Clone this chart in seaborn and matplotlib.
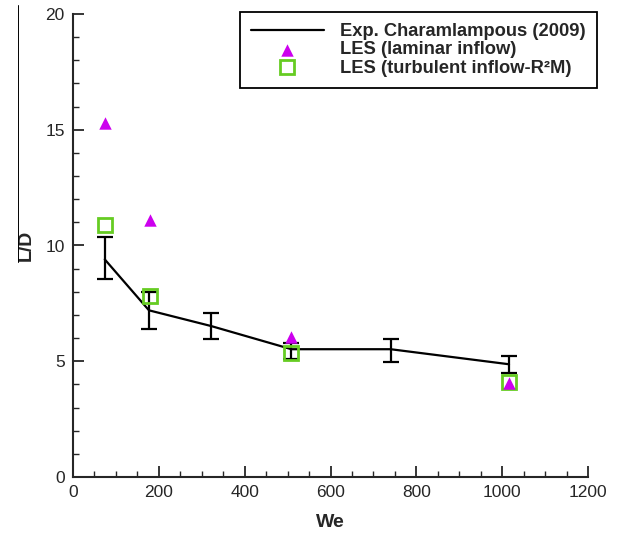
import numpy as np
import pandas as pd
import matplotlib
matplotlib.use('Agg')
import matplotlib.pyplot as plt
from matplotlib.lines import Line2D
from matplotlib.ticker import MultipleLocator
import seaborn as sns

# experimental data (Charalampous 2009) with error bars
exp_we = [74, 177, 322, 509, 740, 1016]
exp_ld = [9.4, 7.2, 6.52, 5.52, 5.52, 4.87]
exp_lo = [8.54, 6.38, 5.95, 5.09, 4.98, 4.48]
exp_hi = [10.38, 8.0, 7.1, 5.8, 5.97, 5.24]

# LES laminar inflow
lam_we = [74, 179, 509, 1016]
lam_ld = [15.3, 11.1, 6.06, 4.07]

# LES turbulent inflow
turb_we = [74, 179, 509, 1016]
turb_ld = [10.89, 7.83, 5.36, 4.1]

sns.set_style('ticks')
plt.rcParams['font.family'] = ['Liberation Sans', 'DejaVu Sans']

fig = plt.figure(figsize=(6.24, 5.34), dpi=100)
ax = fig.add_axes([73 / 624, 57 / 534, 515 / 624, 463 / 534])

exp_df = pd.DataFrame({'We': exp_we, 'LD': exp_ld})
sns.lineplot(data=exp_df, x='We', y='LD', ax=ax, color='black', lw=1.6,
             label='Exp. Charamlampous (2009)')
yerr = [np.array(exp_ld) - np.array(exp_lo), np.array(exp_hi) - np.array(exp_ld)]
ax.errorbar(exp_we, exp_ld, yerr=yerr, fmt='none', ecolor='black',
            elinewidth=1.6, capsize=6, capthick=1.6)

lam_df = pd.DataFrame({'We': lam_we, 'LD': lam_ld})
sns.scatterplot(data=lam_df, x='We', y='LD', ax=ax, marker='^', s=80,
                color='#cc00ee', edgecolor='#cc00ee', linewidth=0,
                label='LES (laminar inflow)', zorder=4)

turb_df = pd.DataFrame({'We': turb_we, 'LD': turb_ld})
ax.plot(turb_df['We'], turb_df['LD'], ls='none', marker='s', ms=10,
        mfc='none', mec='#66cc22', mew=2, label='LES (turbulent inflow-R²M)',
        zorder=3)

ax.set_xlim(0, 1200)
ax.set_ylim(0, 20)
ax.xaxis.set_major_locator(MultipleLocator(200))
ax.xaxis.set_minor_locator(MultipleLocator(50))
ax.yaxis.set_major_locator(MultipleLocator(5))
ax.yaxis.set_minor_locator(MultipleLocator(1))
ax.tick_params(which='major', direction='in', length=8, width=1.3, labelsize=12.5, pad=6)
ax.tick_params(which='minor', direction='in', length=4, width=1.0)
for s in ['top', 'right']:
    ax.spines[s].set_visible(False)
for s in ['left', 'bottom']:
    ax.spines[s].set_linewidth(1.5)

ax.set_xlabel('We', fontsize=14, fontweight='bold', labelpad=10)
ax.set_ylabel('L/D', fontsize=14, fontweight='bold')
ax.yaxis.set_label_coords(-0.074, 0.5)

handles, labels = ax.get_legend_handles_labels()
leg = ax.legend(handles, labels, loc='upper right',
                bbox_to_anchor=(597 / 624, 1 - 12 / 534),
                bbox_transform=fig.transFigure, frameon=True, fancybox=False,
                edgecolor='black', framealpha=1, handlelength=4.0,
                borderpad=0.6, labelspacing=0.08, handletextpad=0.9,
                borderaxespad=0, prop={'weight': 'bold', 'size': 13.2})
leg.get_frame().set_linewidth(1.3)

# stray line above the y label in the original scan
fig.add_artist(Line2D([18 / 624, 18 / 624], [1 - 262 / 534, 1 - 5 / 534],
                      color='black', lw=0.7, transform=fig.transFigure))

fig.savefig('out.png', dpi=100)
